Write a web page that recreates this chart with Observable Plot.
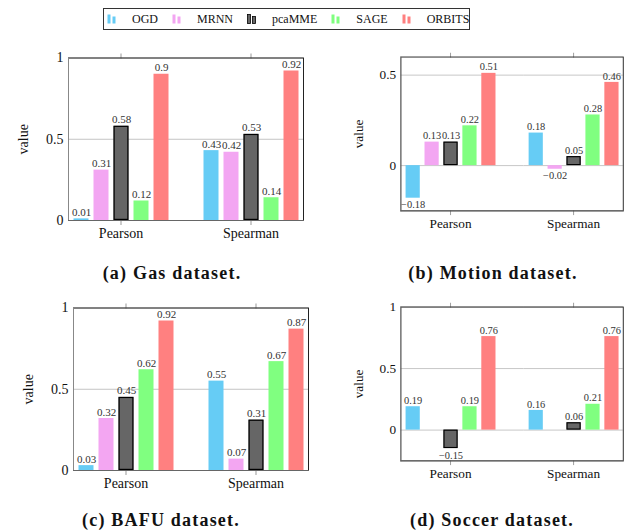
<!DOCTYPE html>
<html><head><meta charset="utf-8">
<script src="https://cdn.jsdelivr.net/npm/d3@7"></script>
<script src="https://cdn.jsdelivr.net/npm/@observablehq/plot@0.6"></script>
<style>
html,body{margin:0;padding:0;background:#fff;}
body{width:637px;height:531px;overflow:hidden;position:relative;font-family:"Liberation Serif",serif;color:#111;}
.panel{position:absolute;}
.panel svg, .panel svg text{font-family:"Liberation Serif",serif !important;}
.cap{position:absolute;font-weight:bold;font-size:18px;line-height:1;letter-spacing:1.2px;transform:translateX(-50%);white-space:nowrap;color:#111;}
#legend{position:absolute;left:103px;top:8px;width:367px;height:22px;border:1px solid #333;box-sizing:border-box;display:flex;align-items:center;font-size:12px;padding-left:3px;}
.item{display:flex;align-items:center;margin-right:14px;}
.item svg{margin-right:16px;}
</style></head><body>
<div id="legend"></div>
<div class="panel" id="pa" style="left:0px;top:40px"></div>
<div class="panel" id="pb" style="left:336px;top:40px"></div>
<div class="panel" id="pc" style="left:5px;top:290px"></div>
<div class="panel" id="pd" style="left:336px;top:290px"></div>
<div class="cap" style="left:172px;top:264px">(a) Gas dataset.</div>
<div class="cap" style="left:493px;top:264px">(b) Motion dataset.</div>
<div class="cap" style="left:161px;top:511px">(c) BAFU dataset.</div>
<div class="cap" style="left:492px;top:511px">(d) Soccer dataset.</div>
<script>
const methods = ["OGD", "MRNN", "pcaMME", "SAGE", "ORBITS"];
const metrics = ["Pearson", "Spearman"];
const fills = ["#66ccf5", "#f3a6f2", "#666666", "#80ff80", "#ff8080"];

const gasPearson = [0.01, 0.31, 0.58, 0.12, 0.9];
const gasSpearman = [0.43, 0.42, 0.53, 0.14, 0.92];
const motionPearson = [-0.18, 0.13, 0.13, 0.22, 0.51];
const motionSpearman = [0.18, -0.02, 0.05, 0.28, 0.46];
const bafuPearson = [0.03, 0.32, 0.45, 0.62, 0.92];
const bafuSpearman = [0.55, 0.07, 0.31, 0.67, 0.87];
const soccerPearson = [0.19, null, -0.15, 0.19, 0.76];
const soccerSpearman = [0.16, null, 0.06, 0.21, 0.76];

const fmt = v => (v < 0 ? "\u2212" + Math.abs(v) : String(v));

// legend
const leg = document.getElementById("legend");
methods.forEach((m, i) => {
  const it = document.createElement("div");
  it.className = "item";
  const isP = m === "pcaMME";
  const stroke = isP ? "#000" : fills[i];
  const sw = isP ? 0.8 : 0;
  it.innerHTML = `<svg width="9" height="10" viewBox="0 0 9 10"><rect x="0.5" y="0.5" width="3" height="9" fill="${fills[i]}" stroke="${stroke}" stroke-width="${sw}"/><rect x="5.5" y="2.5" width="3" height="7" fill="${fills[i]}" stroke="${stroke}" stroke-width="${sw}"/></svg><span>${m}</span>`;
  leg.appendChild(it);
});

function panel(id, pearson, spearman, yDomain, yTicks) {
  const rows = [];
  metrics.forEach((metric, i) => methods.forEach((method, j) => {
    const v = (i === 0 ? pearson : spearman)[j];
    if (v != null) rows.push({metric, method, value: v});
  }));
  const gridRows = [];
  metrics.forEach(metric => yTicks.forEach(t => gridRows.push({metric, t})));
  const chart = Plot.plot({
    width: 318, height: 210,
    marginLeft: 67.5, marginRight: 15.5, marginTop: 17.5, marginBottom: 30,
    style: 'font-family: "Liberation Serif", serif; font-size: 14px; color: #111; background: transparent; overflow: visible;',
    fx: {domain: metrics, paddingInner: 25 / 130, paddingOuter: 0, label: null},
    x: {domain: methods, padding: 0.25, axis: null},
    y: {domain: yDomain, label: null},
    color: {domain: methods, range: fills},
    marks: [
      Plot.ruleY(gridRows.filter(d => d.metric === metrics[0]), {fx: "metric", y: "t", stroke: "#c4c4c4", insetRight: -25}),
      Plot.ruleY(gridRows.filter(d => d.metric !== metrics[0]), {fx: "metric", y: "t", stroke: "#c4c4c4"}),
      Plot.barY(rows, {fx: "metric", x: "method", y: "value", fill: "method"}),
      Plot.barY(rows.filter(d => d.method === "pcaMME"), {fx: "metric", x: "method", y: "value", fill: "none", stroke: "#000", strokeWidth: 1.2, inset: 0.6}),
      Plot.text(rows.filter(d => d.value >= 0), {fx: "metric", x: "method", y: "value", text: d => fmt(d.value), dy: -3, lineAnchor: "bottom", fontSize: 11, fill: "#333"}),
      Plot.text(rows.filter(d => d.value < 0), {fx: "metric", x: "method", y: "value", text: d => fmt(d.value), dy: 3, lineAnchor: "top", fontSize: 11, fill: "#333"}),
      Plot.axisY({ticks: yTicks, tickSize: 0, tickPadding: 5, tickFormat: d => String(d), label: "value", labelArrow: "none", labelAnchor: "center", labelOffset: 50, fill: "#111", fontSize: 14}),
      Plot.axisFx({anchor: "bottom", tickSize: 5, tickPadding: 3, label: null, stroke: "#999", fill: "#111", fontSize: 14}),
      Plot.axisFx({anchor: "top", tickSize: 5, tickFormat: () => "", label: null, stroke: "#999"}),
      Plot.frame({facet: "super", stroke: "#222"}),
      Plot.frame({facet: "super", anchor: "left", stroke: "#888"}),
      Plot.frame({facet: "super", anchor: "bottom", stroke: "#666"})
    ]
  });
  document.getElementById(id).appendChild(chart);
}

panel("pa", gasPearson, gasSpearman, [0, 1], [0, 0.5, 1]);
panel("pb", motionPearson, motionSpearman, [-0.25, 0.6], [0, 0.5]);
panel("pc", bafuPearson, bafuSpearman, [0, 1], [0, 0.5, 1]);
panel("pd", soccerPearson, soccerSpearman, [-0.25, 1], [0, 0.5, 1]);
</script>
</body></html>
